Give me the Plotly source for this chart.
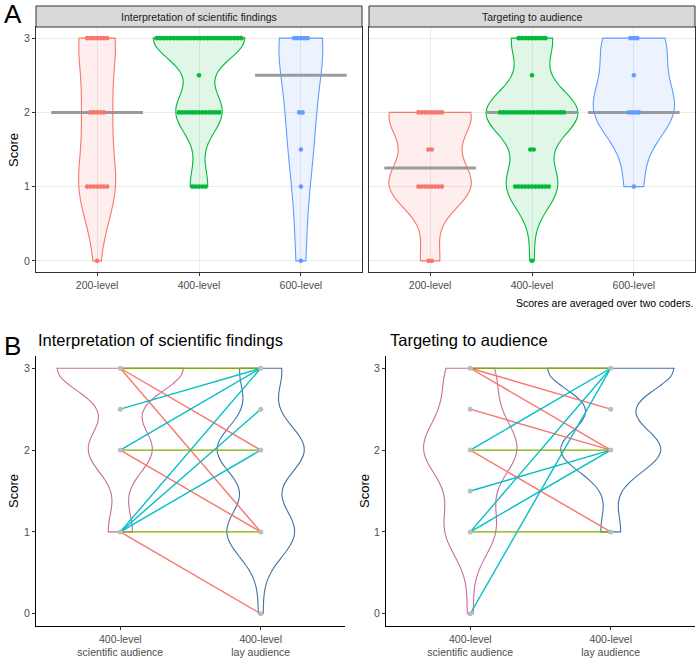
import numpy as np
import plotly.graph_objects as go

levels = ["200-level", "400-level", "600-level"]
facets = ["Interpretation of scientific findings", "Targeting to audience"]

# panel A: score values and number of students with that score
interp_200_scores = [0, 1, 2, 3]
interp_200_counts = [1, 7, 5, 7]
interp_400_scores = [1, 2, 2.5, 3]
interp_400_counts = [5, 13, 1, 26]
interp_600_scores = [0, 1, 1.5, 2, 3]
interp_600_counts = [1, 1, 1, 2, 5]

target_200_scores = [0, 1, 1.5, 2]
target_200_counts = [2, 8, 2, 8]
target_400_scores = [0, 1, 1.5, 2, 2.5, 3]
target_400_counts = [1, 11, 2, 20, 1, 9]
target_600_scores = [1, 2, 2.5, 3]
target_600_counts = [1, 4, 1, 3]

# panel B: paired 400-level scores (scientific -> lay audience), number of students per pair
b_ticks = ["400-level<br>scientific audience", "400-level<br>lay audience"]
interp_sci = [3, 3, 3, 2.5, 2, 2, 2, 1, 1, 1, 1, 1]
interp_lay = [3, 2, 1, 3, 3, 2, 1, 3, 2.5, 2, 1, 0]
interp_n = [5, 12, 9, 1, 2, 6, 5, 1, 1, 1, 1, 1]

target_sci = [3, 3, 3, 2.5, 2, 2, 2, 1.5, 1, 1, 1, 0]
target_lay = [3, 2.5, 2, 2, 3, 2, 1, 2, 3, 2, 1, 3]
target_n = [4, 1, 2, 5, 9, 3, 2, 3, 5, 2, 1, 1]

level_colors = ["#F8766D", "#00BA38", "#619CFF"]
change_colors = {"down": "#F8766D", "same": "#7CAE00", "up": "#00BFC4"}
sci_color = "#C96BA0"
lay_color = "#3F72A6"
FONT = "Liberation Sans, Arial, sans-serif"
W, H = 700, 658


def px_x(v):
    return v / W


def px_y(v):
    return 1 - v / H


def expand(scores, counts):
    return np.repeat(np.array(scores, dtype=float), counts)


def bw_nrd0(x):
    sd = x.std(ddof=1)
    q75, q25 = np.percentile(x, [75, 25])
    return 0.9 * min(sd, (q75 - q25) / 1.34) * len(x) ** -0.2


def max_density(x, bw):
    grid = np.linspace(x.min(), x.max(), 512)
    d = np.exp(-0.5 * ((grid[:, None] - x[None, :]) / bw) ** 2).sum(axis=1)
    return d.max() / (len(x) * bw * np.sqrt(2 * np.pi))


def rgba(hexcol, a):
    h = hexcol.lstrip("#")
    return "rgba(%d,%d,%d,%s)" % (int(h[0:2], 16), int(h[2:4], 16), int(h[4:6], 16), a)


def violins(groups, xa, ya, filled):
    # ggplot-like scale="area": widest violin in the panel gets 0.9
    stats = []
    for pos, vals, col in groups:
        bw = bw_nrd0(vals)
        stats.append((bw, max_density(vals, bw)))
    top = max(s[1] for s in stats)
    traces = []
    for (pos, vals, col), (bw, md) in zip(groups, stats):
        traces.append(go.Violin(
            x0=pos, y=vals, bandwidth=bw, spanmode="hard", scalemode="width",
            width=0.9 * md / top, points=False, hoverinfo="skip",
            line=dict(color=col, width=1.1),
            fillcolor=rgba(col, 0.12) if filled else "rgba(0,0,0,0)",
            xaxis=xa, yaxis=ya, showlegend=False))
    return traces


fig = go.Figure()

facet_data = [
    [(interp_200_scores, interp_200_counts), (interp_400_scores, interp_400_counts),
     (interp_600_scores, interp_600_counts)],
    [(target_200_scores, target_200_counts), (target_400_scores, target_400_counts),
     (target_600_scores, target_600_counts)],
]

# ---- panel A ----
for k, facet in enumerate(facet_data):
    xa, ya = ("x", "y") if k == 0 else ("x2", "y2")
    groups = [(i + 1, expand(s, c), level_colors[i]) for i, (s, c) in enumerate(facet)]
    fig.add_traces(violins(groups, xa, ya, True))
    for pos, vals, col in groups:
        med = np.median(vals)
        fig.add_trace(go.Scatter(x=[pos - 0.45, pos + 0.45], y=[med, med], mode="lines",
                                 line=dict(color="rgba(145,145,145,0.9)", width=3),
                                 hoverinfo="skip", xaxis=xa, yaxis=ya, showlegend=False))
    for i, (scores, counts) in enumerate(facet):
        dx, dy = [], []
        for s, c in zip(scores, counts):
            for j in range(c):
                dx.append(i + 1 + (j - (c - 1) / 2) * 0.033)
                dy.append(s)
        fig.add_trace(go.Scatter(x=dx, y=dy, mode="markers",
                                 marker=dict(color=level_colors[i], size=4.6, line=dict(width=0)),
                                 hoverinfo="skip", xaxis=xa, yaxis=ya, showlegend=False))

# ---- panel B ----
pairs = [(interp_sci, interp_lay, interp_n, "x3", "y3"),
         (target_sci, target_lay, target_n, "x4", "y4")]
for sci, lay, n, xa, ya in pairs:
    sci_vals = expand(sci, n)
    lay_vals = expand(lay, n)
    fig.add_traces(violins([(1, sci_vals, sci_color), (2, lay_vals, lay_color)], xa, ya, False))
    for kind in ["down", "up", "same"]:
        lx, ly = [], []
        for a, b in zip(sci, lay):
            t = "up" if b > a else ("down" if b < a else "same")
            if t == kind:
                lx += [1, 2, None]
                ly += [a, b, None]
        fig.add_trace(go.Scatter(x=lx, y=ly, mode="lines",
                                 line=dict(color=change_colors[kind], width=1.4),
                                 hoverinfo="skip", xaxis=xa, yaxis=ya, showlegend=False))
    px = [1] * len(set(sci)) + [2] * len(set(lay))
    py = sorted(set(sci)) + sorted(set(lay))
    fig.add_trace(go.Scatter(x=px, y=py, mode="markers",
                             marker=dict(color="#BDBDBD", size=5),
                             hoverinfo="skip", xaxis=xa, yaxis=ya, showlegend=False))

tickfont = dict(family=FONT, size=10.5, color="#4D4D4D")
a_x = dict(range=[0.4, 3.6], tickvals=[1, 2, 3], ticktext=levels, showgrid=True,
           gridcolor="#EBEBEB", gridwidth=1, showline=True, mirror=True, linecolor="#333333",
           linewidth=1, ticks="outside", ticklen=3, tickcolor="#333333", tickfont=tickfont,
           zeroline=False, fixedrange=True)
a_y = dict(range=[-0.15, 3.15], tickvals=[0, 1, 2, 3], showgrid=True, gridcolor="#EBEBEB",
           gridwidth=1, showline=True, mirror=True, linecolor="#333333", linewidth=1,
           ticks="outside", ticklen=3, tickcolor="#333333", tickfont=tickfont, zeroline=False,
           domain=[px_y(272), px_y(27)])
b_x = dict(range=[0.4, 2.6], tickvals=[1, 2], ticktext=b_ticks, showgrid=False, showline=True,
           linecolor="#000000", linewidth=1, ticks="outside", ticklen=3, tickcolor="#333333",
           tickfont=tickfont, zeroline=False)
b_y = dict(range=[-0.15, 3.15], tickvals=[0, 1, 2, 3], showgrid=False, showline=True,
           linecolor="#000000", linewidth=1, ticks="outside", ticklen=3, tickcolor="#333333",
           tickfont=tickfont, zeroline=False, domain=[px_y(626), px_y(356)])

fig.update_layout(
    width=W, height=H, margin=dict(l=0, r=0, t=0, b=0),
    paper_bgcolor="white", plot_bgcolor="white", showlegend=False,
    violinmode="overlay", font=dict(family=FONT),
    xaxis=dict(a_x, domain=[px_x(36), px_x(362)], anchor="y"),
    yaxis=dict(a_y, anchor="x"),
    xaxis2=dict(a_x, domain=[px_x(369), px_x(695)], anchor="y2"),
    yaxis2=dict(a_y, anchor="x2", showticklabels=False, ticks=""),
    xaxis3=dict(b_x, domain=[px_x(36), px_x(345)], anchor="y3"),
    yaxis3=dict(b_y, anchor="x3"),
    xaxis4=dict(b_x, domain=[px_x(386), px_x(695)], anchor="y4"),
    yaxis4=dict(b_y, anchor="x4"),
)

# facet strips
for k, (x0, x1) in enumerate([(36, 362), (369, 695)]):
    fig.add_shape(type="rect", xref="paper", yref="paper", x0=px_x(x0), x1=px_x(x1),
                  y0=px_y(27), y1=px_y(6), fillcolor="#D9D9D9",
                  line=dict(color="#333333", width=1), layer="above")
    fig.add_annotation(x=px_x((x0 + x1) / 2), y=px_y(16.5), xref="paper", yref="paper",
                       text=facets[k], showarrow=False, xanchor="center", yanchor="middle",
                       font=dict(family=FONT, size=10.5, color="#1A1A1A"))

texts = [
    dict(x=2, y=14, text="A", size=26, xanchor="left"),
    dict(x=2, y=346, text="B", size=26, xanchor="left"),
    dict(x=36, y=340, text=facets[0], size=16.5, xanchor="left"),
    dict(x=388, y=340, text=facets[1], size=16.5, xanchor="left"),
    dict(x=695, y=303, text="Scores are averaged over two coders.", size=10.5, xanchor="right"),
]
for t in texts:
    fig.add_annotation(x=px_x(t["x"]), y=px_y(t["y"]), xref="paper", yref="paper",
                       text=t["text"], showarrow=False, xanchor=t["xanchor"], yanchor="middle",
                       font=dict(family=FONT, size=t["size"], color="black"))

for x, y in [(13, 150), (13, 491), (364, 491)]:
    fig.add_annotation(x=px_x(x), y=px_y(y), xref="paper", yref="paper", text="Score",
                       textangle=-90, showarrow=False, xanchor="center", yanchor="middle",
                       font=dict(family=FONT, size=13, color="black"))

# page body has a default margin; drop it so the figure fills the window
fig.write_html("out.html", config={"displayModeBar": False},
               post_script="document.body.style.margin='0px';document.body.style.overflow='hidden';")
